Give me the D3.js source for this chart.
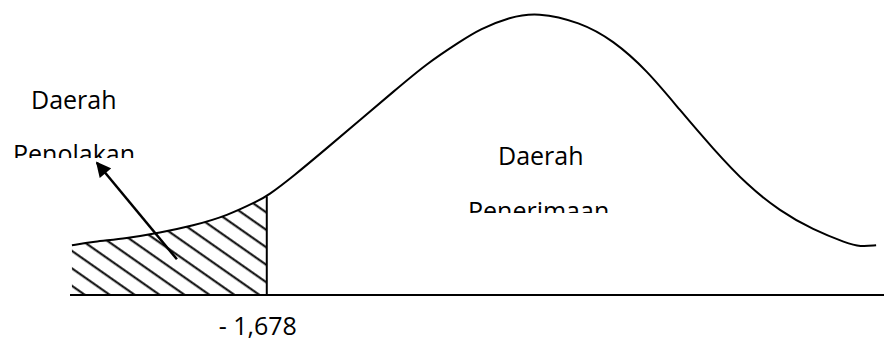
<!DOCTYPE html>
<html>
<head>
<meta charset="utf-8">
<script src="https://cdn.jsdelivr.net/npm/d3@7"></script>
<style>
  body { margin: 0; background: #fff; }
  text { font-family: 'Open Sans', sans-serif; fill: #000; }
</style>
</head>
<body>
<div id="chart"></div>
<script>
// curve: z value and height of the density
const curveZ = [-2.888, -2.758, -2.547, -2.342, -2.137, -1.925, -1.72, -1.678, -1.516, -1.304,
  -1.099, -0.894, -0.683, -0.478, -0.354, -0.168, 0, 0.267, 0.472, 0.683,
  0.888, 1.093, 1.304, 1.509, 1.714, 1.925, 2.006, 2.106];
const curveD = [0.071, 0.076, 0.081, 0.089, 0.099, 0.113, 0.136, 0.141, 0.169, 0.210,
  0.250, 0.290, 0.331, 0.362, 0.380, 0.397, 0.404, 0.390, 0.364, 0.321,
  0.264, 0.209, 0.157, 0.120, 0.093, 0.074, 0.069, 0.071];
const critical = -1.678;
const criticalLabel = '- 1,678';
const rejectLabel = ['Daerah', 'Penolakan'];
const acceptLabel = ['Daerah', 'Penerimaan'];
// arrow from inside the shaded area to the label
const arrowZ = [-2.236, -2.733];
const arrowD = [0.051, 0.189];
const axisExtent = [-2.9, 2.155];

const svgWidth = 884;
const svgHeight = 343;

const svg = d3.select('#chart')
  .append('svg')
  .attr('width', svgWidth)
  .attr('height', svgHeight);

const x = d3.scaleLinear().domain(axisExtent).range([70, 884]);
const y = d3.scaleLinear().domain([0, 0.4]).range([295, 15]);

const data = curveZ.map((z, i) => ({ z, d: curveD[i] }));
const tail = data.filter(p => p.z <= critical);

const defs = svg.append('defs');

defs.append('pattern')
  .attr('id', 'hatch')
  .attr('patternUnits', 'userSpaceOnUse')
  .attr('width', 14.3)
  .attr('height', 14.3)
  .attr('patternTransform', 'rotate(35)')
  .append('line')
    .attr('x1', 0).attr('y1', 7)
    .attr('x2', 14.3).attr('y2', 7)
    .attr('stroke', '#000')
    .attr('stroke-width', 2);

defs.append('marker')
  .attr('id', 'head')
  .attr('viewBox', '0 0 10 10')
  .attr('refX', 9)
  .attr('refY', 5)
  .attr('markerWidth', 6.5)
  .attr('markerHeight', 6)
  .attr('markerUnits', 'strokeWidth')
  .attr('orient', 'auto')
  .append('path')
    .attr('d', 'M0,0L10,5L0,10z')
    .attr('fill', '#000');

defs.append('clipPath').attr('id', 'clipReject')
  .append('rect').attr('x', 0).attr('y', 80).attr('width', 200).attr('height', 78);
defs.append('clipPath').attr('id', 'clipAccept')
  .append('rect').attr('x', 440).attr('y', 130).attr('width', 220).attr('height', 83);

const curve = d3.curveBasis;

const area = d3.area()
  .curve(curve)
  .x(d => x(d.z))
  .y0(y(0))
  .y1(d => y(d.d));

const line = d3.line()
  .curve(curve)
  .x(d => x(d.z))
  .y(d => y(d.d));

// shaded rejection area
svg.append('path')
  .datum(tail)
  .attr('d', area)
  .attr('fill', 'url(#hatch)');

// baseline
svg.append('line')
  .attr('x1', x(axisExtent[0]))
  .attr('x2', x(axisExtent[1]))
  .attr('y1', y(0))
  .attr('y2', y(0))
  .attr('stroke', '#000')
  .attr('stroke-width', 2);

// critical value line
svg.append('line')
  .attr('x1', x(critical))
  .attr('x2', x(critical))
  .attr('y1', y(0.141))
  .attr('y2', y(0))
  .attr('stroke', '#000')
  .attr('stroke-width', 2);

svg.append('path')
  .datum(data)
  .attr('d', line)
  .attr('fill', 'none')
  .attr('stroke', '#000')
  .attr('stroke-width', 2);

svg.append('line')
  .attr('x1', x(arrowZ[0]))
  .attr('y1', y(arrowD[0]))
  .attr('x2', x(arrowZ[1]))
  .attr('y2', y(arrowD[1]))
  .attr('stroke', '#000')
  .attr('stroke-width', 2.5)
  .attr('marker-end', 'url(#head)');

const fontSize = 25;

const reject = svg.append('g').attr('clip-path', 'url(#clipReject)');
reject.append('text')
  .attr('x', 31).attr('y', 109)
  .attr('font-size', fontSize)
  .text(rejectLabel[0]);
reject.append('text')
  .attr('x', 13).attr('y', 163)
  .attr('font-size', fontSize)
  .text(rejectLabel[1]);

const accept = svg.append('g').attr('clip-path', 'url(#clipAccept)');
accept.append('text')
  .attr('x', 498).attr('y', 165)
  .attr('font-size', fontSize)
  .text(acceptLabel[0]);
accept.append('text')
  .attr('x', 468).attr('y', 220)
  .attr('font-size', fontSize)
  .text(acceptLabel[1]);

svg.append('text')
  .attr('x', x(critical) - 9)
  .attr('y', 335)
  .attr('text-anchor', 'middle')
  .attr('font-size', fontSize)
  .text(criticalLabel);
</script>
</body>
</html>
